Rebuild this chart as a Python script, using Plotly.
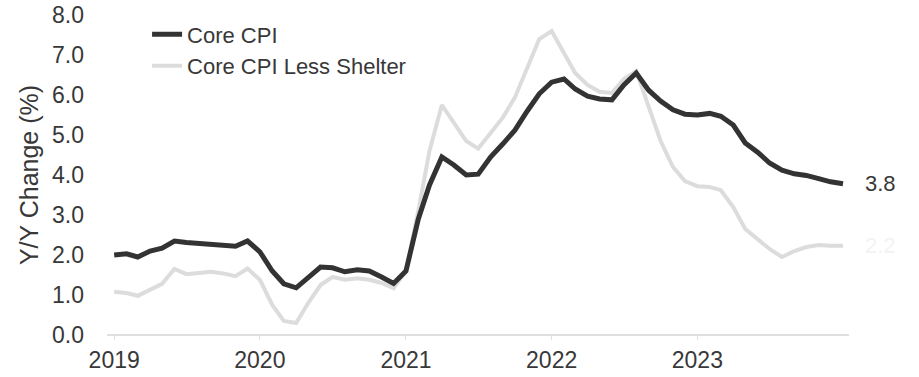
import pandas as pd
import plotly.graph_objects as go

# Monthly observations, Jan 2019 .. Jan 2024 (61 points)
months = pd.date_range("2019-01-01", "2024-01-01", freq="MS")

core_cpi = [
    2.00, 2.03, 1.95, 2.10, 2.17, 2.35, 2.31, 2.28, 2.27, 2.25, 2.22, 2.35,
    2.08, 1.60, 1.28, 1.18, 1.45, 1.70, 1.68, 1.58, 1.63, 1.60, 1.45, 1.29,
    1.60, 2.90, 3.75, 4.45, 4.25, 4.00, 4.02, 4.45, 4.78, 5.12, 5.60, 6.03,
    6.32, 6.40, 6.15, 5.97, 5.90, 5.88, 6.25, 6.55, 6.12, 5.85, 5.63, 5.52,
    5.50, 5.54, 5.47, 5.25, 4.80, 4.57, 4.30, 4.12, 4.03, 3.99, 3.91, 3.83,
    3.78,
]

core_less_shelter = [
    1.08, 1.05, 0.98, 1.12, 1.28, 1.65, 1.52, 1.55, 1.58, 1.54, 1.47, 1.66,
    1.38, 0.75, 0.35, 0.30, 0.80, 1.25, 1.45, 1.38, 1.42, 1.38, 1.30, 1.17,
    1.60, 3.10, 4.60, 5.75, 5.30, 4.85, 4.66, 5.05, 5.44, 5.94, 6.69, 7.40,
    7.60, 7.05, 6.55, 6.25, 6.08, 6.05, 6.40, 6.60, 5.70, 4.85, 4.20, 3.85,
    3.72, 3.70, 3.62, 3.20, 2.65, 2.40, 2.15, 1.95, 2.10, 2.20, 2.25, 2.23,
    2.23,
]

year_ticks = ["2019-01-01", "2020-01-01", "2021-01-01", "2022-01-01", "2023-01-01"]
year_labels = ["2019", "2020", "2021", "2022", "2023"]
y_ticks = [0, 1, 2, 3, 4, 5, 6, 7, 8]
y_labels = [f"{v:.1f}" for v in y_ticks]

FONT = "Liberation Sans, Arial, sans-serif"
TXT = "#383838"

fig = go.Figure()
fig.add_trace(go.Scatter(
    x=months, y=core_less_shelter, mode="lines", name="Core CPI Less Shelter",
    line=dict(color="#dcdcdc", width=4),
))
fig.add_trace(go.Scatter(
    x=months, y=core_cpi, mode="lines", name="Core CPI",
    line=dict(color="#333333", width=5),
))

# end-of-line value labels
fig.add_annotation(x=months[-1], y=core_cpi[-1], text=f"{core_cpi[-1]:.1f}",
                   xanchor="left", yanchor="middle", xshift=20, showarrow=False,
                   font=dict(family=FONT, size=22, color=TXT))
fig.add_annotation(x=months[-1], y=core_less_shelter[-1], text=f"{core_less_shelter[-1]:.1f}",
                   xanchor="left", yanchor="middle", xshift=20, showarrow=False,
                   font=dict(family=FONT, size=22, color="#f3f3f3"))

fig.update_layout(
    width=919, height=377,
    margin=dict(l=107, r=70, t=15, b=42, autoexpand=False),
    paper_bgcolor="white", plot_bgcolor="white",
    font=dict(family=FONT, size=23, color=TXT),
    showlegend=True,
    legend=dict(
        x=0.054, y=1.005, xanchor="left", yanchor="top",
        traceorder="reversed", bgcolor="rgba(0,0,0,0)",
        font=dict(family=FONT, size=22, color=TXT),
        itemwidth=30, tracegroupgap=0,
    ),
    xaxis=dict(
        range=["2018-12-14", "2024-01-16"],
        tickmode="array", tickvals=year_ticks, ticktext=year_labels,
        showgrid=False, zeroline=False, automargin=False,
        showline=False,
        ticks="outside", ticklen=4, tickcolor="#e0e0e0",
        ticklabelstandoff=0,
        tickfont=dict(family=FONT, size=23, color=TXT),
    ),
    yaxis=dict(
        range=[0, 8], automargin=False,
        tickmode="array", tickvals=y_ticks, ticktext=y_labels,
        showgrid=False, zeroline=True, zerolinecolor="#e0e0e0", zerolinewidth=2,
        showline=False, ticks="", ticklabelstandoff=22,
        tickfont=dict(family=FONT, size=23, color=TXT),
        title=dict(text="Y/Y Change (%)", standoff=6,
                   font=dict(family=FONT, size=25, color=TXT)),
    ),
)

fig.write_html("out.html")
